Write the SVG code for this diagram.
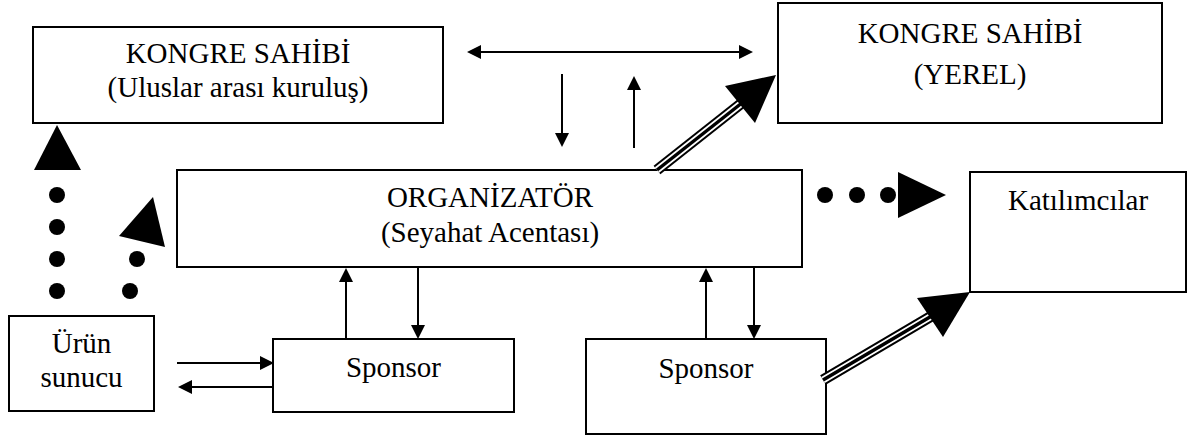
<svg xmlns="http://www.w3.org/2000/svg" width="1197" height="438" viewBox="0 0 1197 438">
<style>
.box{fill:#fff;stroke:#000;stroke-width:2}
.t{font-family:"Liberation Serif","Times New Roman",serif;font-size:29px;fill:#000;text-anchor:middle}
.ln{stroke:#000;stroke-width:2;fill:none}
.arr{marker-end:url(#ah)}
.dbl{marker-start:url(#ah);marker-end:url(#ah)}
.dot{fill:#000}
.tri{fill:#000}
.t1{stroke:#000;stroke-width:11;fill:none}
.t2{stroke:#fff;stroke-width:7;fill:none}
.t3{stroke:#000;stroke-width:3.5;fill:none}
</style>
<defs>
<marker id="ah" markerUnits="userSpaceOnUse" markerWidth="14" markerHeight="14" refX="4" refY="7" orient="auto-start-reverse">
<path d="M0,0 L14,7 L0,14 z" fill="#000"/>
</marker>
</defs>
<rect width="1197" height="438" fill="#fff"/>
<g id="kongre-uluslararasi">
<rect class="box" x="33" y="27" width="410" height="96"/>
<text class="t" x="238" y="63">KONGRE SAHİBİ</text>
<text class="t" x="238" y="97">(Uluslar arası kuruluş)</text>
</g>
<g id="kongre-yerel">
<rect class="box" x="778" y="3" width="384" height="120"/>
<text class="t" x="970" y="43">KONGRE SAHİBİ</text>
<text class="t" x="970" y="84">(YEREL)</text>
</g>
<g id="organizator">
<rect class="box" x="177" y="170" width="625" height="97"/>
<text class="t" x="490" y="207">ORGANİZATÖR</text>
<text class="t" x="490" y="242">(Seyahat Acentası)</text>
</g>
<g id="katilimcilar">
<rect class="box" x="970" y="172" width="216" height="120"/>
<text class="t" x="1078" y="210">Katılımcılar</text>
</g>
<g id="urun-sunucu">
<rect class="box" x="9" y="316" width="145" height="95"/>
<text class="t" x="81.5" y="353">Ürün</text>
<text class="t" x="81.5" y="387">sunucu</text>
</g>
<g id="sponsor1">
<rect class="box" x="273" y="339" width="241" height="73"/>
<text class="t" x="393.5" y="377">Sponsor</text>
</g>
<g id="sponsor2">
<rect class="box" x="586" y="339" width="240" height="95"/>
<text class="t" x="706" y="378">Sponsor</text>
</g>
<g id="connectors">
<line class="ln dbl" x1="477" y1="52" x2="743" y2="52"/>
<line class="ln arr" x1="562" y1="74" x2="562" y2="137"/>
<line class="ln arr" x1="634" y1="148" x2="634" y2="86"/>
<line class="ln arr" x1="346" y1="339" x2="346" y2="278"/>
<line class="ln arr" x1="418" y1="267" x2="418" y2="329"/>
<line class="ln arr" x1="706" y1="339" x2="706" y2="278"/>
<line class="ln arr" x1="754" y1="267" x2="754" y2="329"/>
<line class="ln arr" x1="177" y1="363" x2="264" y2="363"/>
<line class="ln arr" x1="274" y1="387" x2="188" y2="387"/>
<g id="triple-to-yerel">
<line class="t1" x1="657" y1="170" x2="745" y2="100.5"/>
<line class="t2" x1="657" y1="170" x2="745" y2="100.5"/>
<line class="t3" x1="657" y1="170" x2="745" y2="100.5"/>
<polygon class="tri" points="776,75 725,86 755,123"/>
</g>
<g id="triple-to-katilimcilar">
<line class="t1" x1="823" y1="380" x2="935" y2="314"/>
<line class="t2" x1="823" y1="380" x2="935" y2="314"/>
<line class="t3" x1="823" y1="380" x2="935" y2="314"/>
<polygon class="tri" points="970,292 917,298 943,337"/>
</g>
<g id="dots-to-katilimcilar">
<circle class="dot" cx="825" cy="195" r="8"/>
<circle class="dot" cx="857" cy="195" r="8"/>
<circle class="dot" cx="888" cy="195" r="8"/>
<polygon class="tri" points="898,172 898,218 946,195"/>
</g>
<g id="dots-to-kongre">
<circle class="dot" cx="57" cy="195" r="8"/>
<circle class="dot" cx="57" cy="227" r="8"/>
<circle class="dot" cx="57" cy="259" r="8"/>
<circle class="dot" cx="57" cy="291" r="8"/>
<polygon class="tri" points="57,125 34,170 81,170"/>
</g>
<g id="dots-to-organizator">
<circle class="dot" cx="137" cy="259" r="8"/>
<circle class="dot" cx="130" cy="291" r="8"/>
<polygon class="tri" points="119,236 153,197 165,247"/>
</g>
</g>
</svg>
